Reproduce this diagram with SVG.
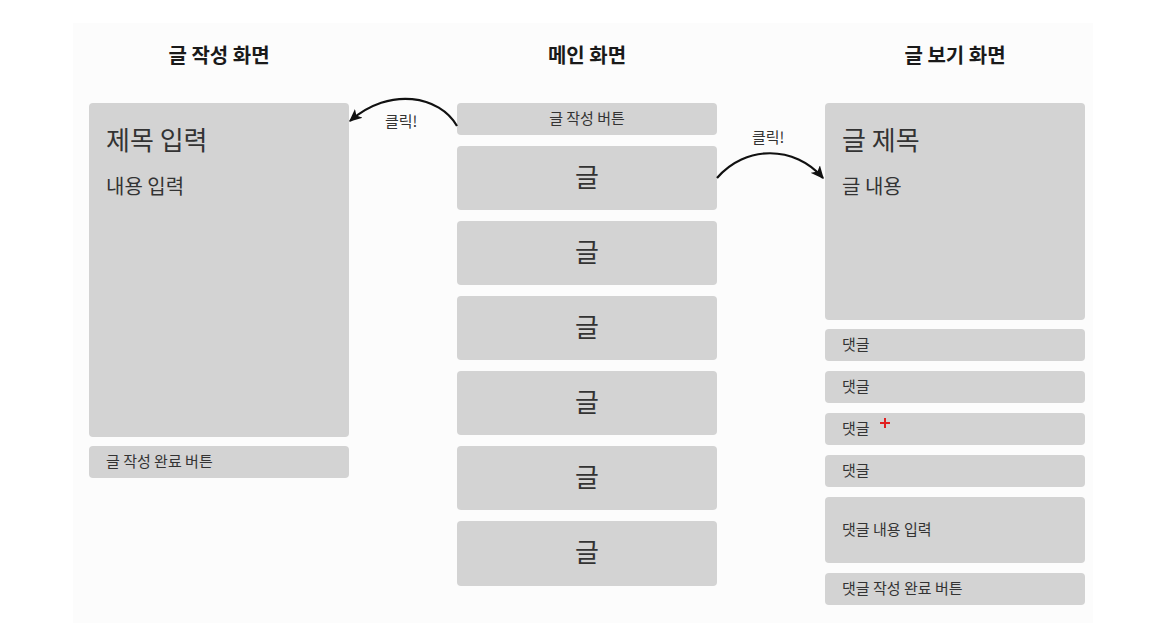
<svg xmlns="http://www.w3.org/2000/svg" width="1162" height="642" viewBox="0 0 1162 642">
<defs>
<style>
.box{fill:#d3d3d3;}
.t{font-family:"Noto Sans CJK KR","Noto Sans",sans-serif;fill:#333;}
.title{font-family:"Noto Sans CJK KR","Noto Sans",sans-serif;font-weight:bold;font-size:20px;fill:#1a1a1a;text-anchor:middle;}
.big{font-size:26px;}
.mid{font-size:20px;}
.sm{font-size:15px;}
.c{text-anchor:middle;}
.arrow{fill:none;stroke:#111;stroke-width:2.2;}
</style>
<marker id="ah" viewBox="0 0 10 10" refX="9" refY="5" markerWidth="13" markerHeight="13" orient="auto-start-reverse" markerUnits="userSpaceOnUse">
<path d="M0,0.5 L10,5 L0,9.5 L2.5,5 z" fill="#111"/>
</marker>
</defs>
<rect width="1162" height="642" fill="#ffffff"/>
<rect x="73" y="23" width="1020" height="600" fill="#fcfcfc"/>

<g id="titles">
<text class="title" x="219" y="63">글 작성 화면</text>
<text class="title" x="587" y="63">메인 화면</text>
<text class="title" x="955" y="63">글 보기 화면</text>
</g>

<g id="write-screen">
<rect class="box" x="89" y="103" width="260" height="334" rx="4"/>
<text class="t big" x="106" y="150">제목 입력</text>
<text class="t mid" x="106" y="194">내용 입력</text>
</g>
<g id="write-done-btn">
<rect class="box" x="89" y="446" width="260" height="32" rx="4"/>
<text class="t sm" x="106" y="467">글 작성 완료 버튼</text>
</g>

<g id="write-btn">
<rect class="box" x="457" y="103" width="260" height="32" rx="4"/>
<text class="t sm c" x="587" y="124">글 작성 버튼</text>
</g>
<g id="post1"><rect class="box" x="457" y="146" width="260" height="64" rx="4"/><text class="t big c" x="587" y="187">글</text></g>
<g id="post2"><rect class="box" x="457" y="221" width="260" height="64" rx="4"/><text class="t big c" x="587" y="262">글</text></g>
<g id="post3"><rect class="box" x="457" y="296" width="260" height="64" rx="4"/><text class="t big c" x="587" y="337">글</text></g>
<g id="post4"><rect class="box" x="457" y="371" width="260" height="64" rx="4"/><text class="t big c" x="587" y="412">글</text></g>
<g id="post5"><rect class="box" x="457" y="446" width="260" height="64" rx="4"/><text class="t big c" x="587" y="487">글</text></g>
<g id="post6"><rect class="box" x="457" y="521" width="260" height="65" rx="4"/><text class="t big c" x="587" y="562">글</text></g>

<g id="view-screen">
<rect class="box" x="825" y="103" width="260" height="217" rx="4"/>
<text class="t big" x="842" y="150">글 제목</text>
<text class="t mid" x="842" y="194">글 내용</text>
</g>
<g id="comment1"><rect class="box" x="825" y="329" width="260" height="32" rx="4"/><text class="t sm" x="842" y="350">댓글</text></g>
<g id="comment2"><rect class="box" x="825" y="371" width="260" height="32" rx="4"/><text class="t sm" x="842" y="392">댓글</text></g>
<g id="comment3"><rect class="box" x="825" y="413" width="260" height="32" rx="4"/><text class="t sm" x="842" y="434">댓글</text>
<path d="M885,418 v10 M880,423 h10" stroke="#e02020" stroke-width="2"/></g>
<g id="comment4"><rect class="box" x="825" y="455" width="260" height="32" rx="4"/><text class="t sm" x="842" y="476">댓글</text></g>
<g id="comment-input"><rect class="box" x="825" y="497" width="260" height="66" rx="4"/><text class="t sm" x="842" y="535">댓글 내용 입력</text></g>
<g id="comment-done-btn"><rect class="box" x="825" y="573" width="260" height="32" rx="4"/><text class="t sm" x="842" y="594">댓글 작성 완료 버튼</text></g>

<g id="connectors">
<path class="arrow" d="M457,126 C440,96 390,86 350,121" marker-end="url(#ah)"/>
<text class="t sm" x="385" y="127">클릭!</text>
<path class="arrow" d="M717,178 C745,145 795,145 823,178" marker-end="url(#ah)"/>
<text class="t sm" x="752" y="143">클릭!</text>
</g>
</svg>
